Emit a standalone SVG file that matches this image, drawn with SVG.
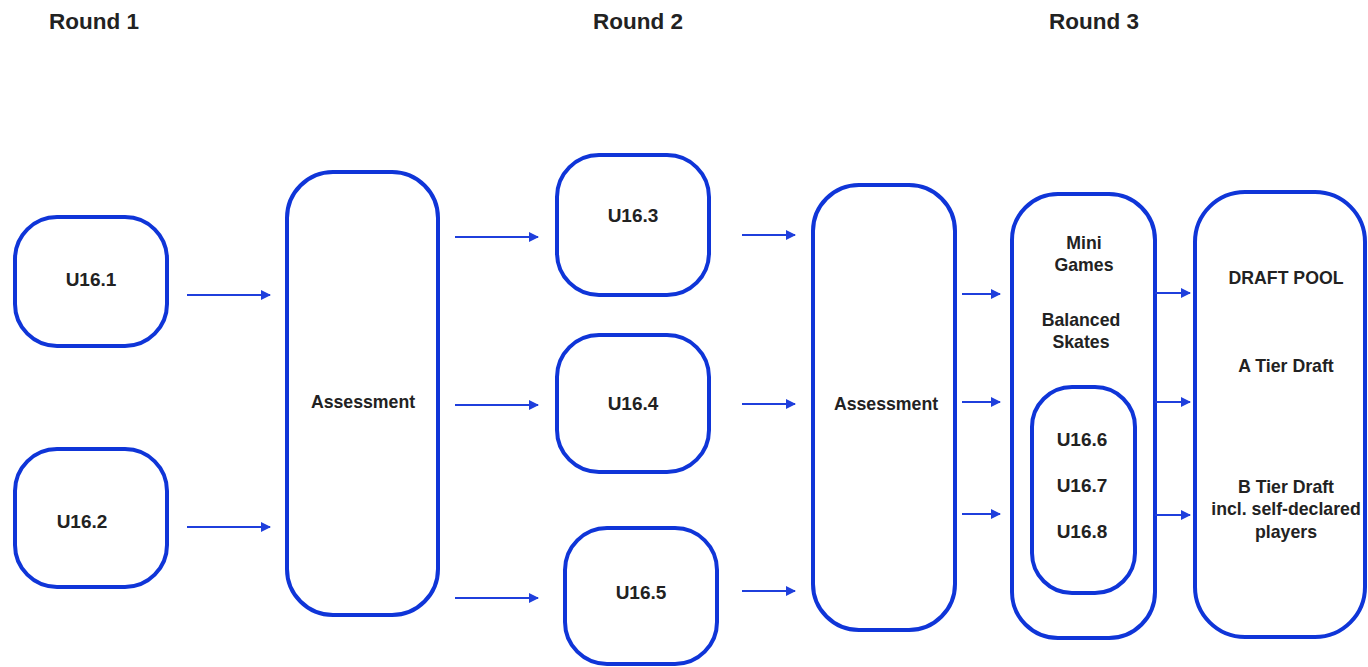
<svg xmlns="http://www.w3.org/2000/svg" width="1368" height="667" viewBox="0 0 1368 667">
  <style>
    .box { fill: #ffffff; stroke: #0f35d8; stroke-width: 4; }
    .title { font-family: "Liberation Sans", Arial, sans-serif; font-weight: bold; font-size: 22.5px; fill: #222; text-anchor: middle; }
    .lbl { font-family: "Liberation Sans", Arial, sans-serif; font-weight: bold; font-size: 17.7px; fill: #222; text-anchor: middle; }
    .lbl.team { font-size: 19px; }
    .conn line { stroke: #1f3fdc; stroke-width: 2; marker-end: url(#arrow); }
  </style>
  <defs>
    <marker id="arrow" viewBox="0 0 10 10" refX="9" refY="5" markerWidth="5" markerHeight="5" orient="auto" markerUnits="strokeWidth">
      <path d="M0,0 L10,5 L0,10 z" fill="#1f3fdc"/>
    </marker>
  </defs>
  <rect width="1368" height="667" fill="#ffffff"/>

  <text class="title" x="94" y="29">Round 1</text>
  <text class="title" x="638" y="29">Round 2</text>
  <text class="title" x="1094" y="29">Round 3</text>

  <g id="u16-1"><rect class="box" x="15" y="217" width="152" height="129" rx="42"/><text class="lbl team" x="91" y="286">U16.1</text></g>
  <g id="u16-2"><rect class="box" x="15" y="449" width="152" height="138" rx="42"/><text class="lbl team" x="82" y="528">U16.2</text></g>
  <g id="assessment-1"><rect class="box" x="287" y="172" width="151" height="443" rx="46"/><text class="lbl" x="363" y="408">Assessment</text></g>
  <g id="u16-3"><rect class="box" x="557" y="155" width="152" height="140" rx="42"/><text class="lbl team" x="633" y="222">U16.3</text></g>
  <g id="u16-4"><rect class="box" x="557" y="335" width="152" height="137" rx="42"/><text class="lbl team" x="633" y="410">U16.4</text></g>
  <g id="u16-5"><rect class="box" x="565" y="528" width="152" height="136" rx="42"/><text class="lbl team" x="641" y="599">U16.5</text></g>
  <g id="assessment-2"><rect class="box" x="813" y="185" width="142" height="445" rx="46"/><text class="lbl" x="886" y="410">Assessment</text></g>
  <g id="skills">
    <rect class="box" x="1012" y="194" width="143" height="444" rx="46"/>
    <text class="lbl" x="1084" y="249">Mini</text>
    <text class="lbl" x="1084" y="271">Games</text>
    <text class="lbl" x="1081" y="326">Balanced</text>
    <text class="lbl" x="1081" y="348">Skates</text>
  </g>
  <g id="u16-6-8">
    <rect class="box" x="1032" y="387" width="103" height="206" rx="40"/>
    <text class="lbl team" x="1082" y="446">U16.6</text>
    <text class="lbl team" x="1082" y="492">U16.7</text>
    <text class="lbl team" x="1082" y="538">U16.8</text>
  </g>
  <g id="draft-pool">
    <rect class="box" x="1195" y="192" width="170" height="445" rx="50"/>
    <text class="lbl" x="1286" y="284">DRAFT POOL</text>
    <text class="lbl" x="1286" y="372">A Tier Draft</text>
    <text class="lbl" x="1286" y="493">B Tier Draft</text>
    <text class="lbl" x="1286" y="515">incl. self-declared</text>
    <text class="lbl" x="1286" y="538">players</text>
  </g>

  <g id="connectors" class="conn">
    <line x1="187" y1="295" x2="270" y2="295"/>
    <line x1="187" y1="527" x2="270" y2="527"/>
    <line x1="455" y1="237" x2="538" y2="237"/>
    <line x1="455" y1="405" x2="538" y2="405"/>
    <line x1="455" y1="598" x2="538" y2="598"/>
    <line x1="742" y1="235" x2="795" y2="235"/>
    <line x1="742" y1="404" x2="795" y2="404"/>
    <line x1="742" y1="591" x2="795" y2="591"/>
    <line x1="962" y1="294" x2="1000" y2="294"/>
    <line x1="962" y1="402" x2="1000" y2="402"/>
    <line x1="962" y1="514" x2="1000" y2="514"/>
    <line x1="1155" y1="293" x2="1190" y2="293"/>
    <line x1="1155" y1="402" x2="1190" y2="402"/>
    <line x1="1155" y1="515" x2="1190" y2="515"/>
  </g>
</svg>
